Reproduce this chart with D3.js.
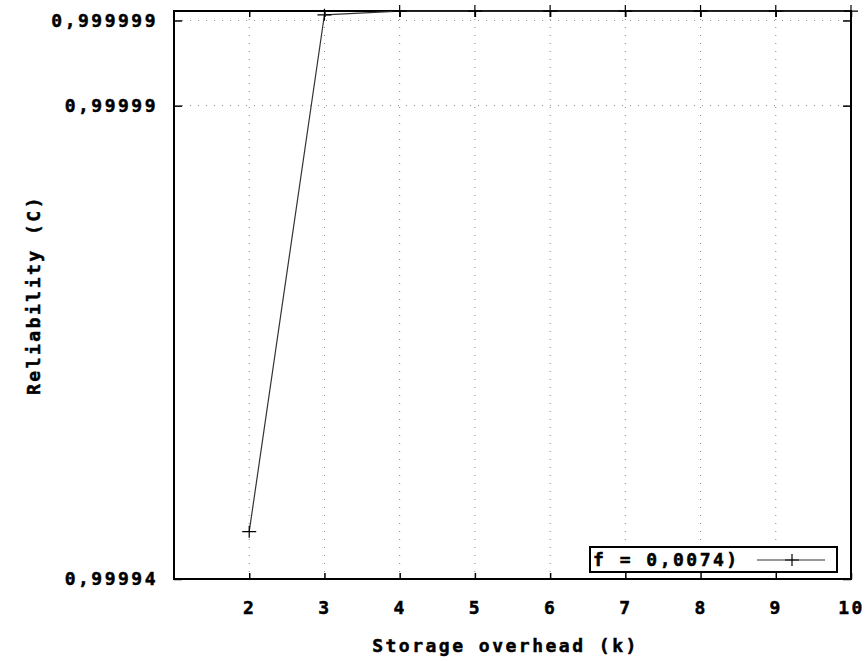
<!DOCTYPE html>
<html>
<head>
<meta charset="utf-8">
<script src="https://cdn.jsdelivr.net/npm/d3@7"></script>
<style>
  body { margin: 0; background: #fff; }
  text { font-family: "DejaVu Sans Mono", monospace; font-weight: bold; stroke: #000; stroke-width: 0.5px; }
</style>
</head>
<body>
<div id="wrapper"></div>
<script>
// data
const overhead = [2, 3, 4, 5, 6, 7, 8, 9, 10]
const reliability = [0.999945, 0.9999996, 0.99999999, 0.99999999, 0.99999999, 0.99999999, 0.99999999, 0.99999999, 0.99999999]
const xTicks = [2, 3, 4, 5, 6, 7, 8, 9, 10]
const xTickLabels = ["2", "3", "4", "5", "6", "7", "8", "9", "10"]
const yTicks = [0.99994, 0.99999, 0.999999]
const yTickLabels = ["0,99994", "0,99999", "0,999999"]
const legendLabel = "f = 0,0074)"

function drawChart() {
  const data = overhead.map((k, i) => ({ k, r: reliability[i] }))
  const xAccessor = d => d.k
  const yAccessor = d => d.r

  // dimensions
  const dimensions = {
    width: 866,
    height: 661,
    margin: { top: 11, right: 15, bottom: 82, left: 174 }
  }
  dimensions.boundedWidth = dimensions.width - dimensions.margin.left - dimensions.margin.right
  dimensions.boundedHeight = dimensions.height - dimensions.margin.top - dimensions.margin.bottom

  const wrapper = d3.select("#wrapper")
    .append("svg")
    .attr("width", dimensions.width)
    .attr("height", dimensions.height)

  wrapper.append("rect")
    .attr("width", dimensions.width)
    .attr("height", dimensions.height)
    .attr("fill", "#fff")

  const bounds = wrapper.append("g")
    .attr("transform", `translate(${dimensions.margin.left},${dimensions.margin.top})`)

  // scales
  const xScale = d3.scaleLinear()
    .domain([1, 10])
    .range([0, dimensions.boundedWidth])

  const yScale = d3.scaleLinear()
    .domain([0.99994, 1])
    .range([dimensions.boundedHeight, 0])

  // grid (dotted, like gnuplot)
  bounds.append("g")
    .selectAll("line")
    .data(xTicks.filter(t => t < 10))
    .join("line")
    .attr("x1", d => xScale(d))
    .attr("x2", d => xScale(d))
    .attr("y1", 0)
    .attr("y2", dimensions.boundedHeight)
    .attr("stroke", "#888")
    .attr("stroke-width", 1)
    .attr("stroke-dasharray", "1,7")

  bounds.append("g")
    .selectAll("line")
    .data(yTicks.filter(t => t > 0.99994))
    .join("line")
    .attr("x1", 0)
    .attr("x2", dimensions.boundedWidth)
    .attr("y1", d => yScale(d))
    .attr("y2", d => yScale(d))
    .attr("stroke", "#888")
    .attr("stroke-width", 1)
    .attr("stroke-dasharray", "1,7")

  // axes, ticks pointing inward, mirrored on top/right
  const xAxisGenerator = d3.axisBottom(xScale)
    .tickValues(xTicks)
    .tickFormat((d, i) => xTickLabels[i])
    .tickSizeInner(-6)
    .tickSizeOuter(0)
    .tickPadding(22)

  const xAxis = bounds.append("g")
    .attr("transform", `translate(0,${dimensions.boundedHeight})`)
    .call(xAxisGenerator)

  const xAxisTop = bounds.append("g")
    .call(d3.axisTop(xScale).tickValues(xTicks).tickFormat("").tickSizeInner(-6).tickSizeOuter(0))

  const yAxisGenerator = d3.axisLeft(yScale)
    .tickValues(yTicks)
    .tickFormat((d, i) => yTickLabels[i])
    .tickSizeInner(-8)
    .tickSizeOuter(0)
    .tickPadding(16)

  const yAxis = bounds.append("g")
    .call(yAxisGenerator)

  const yAxisRight = bounds.append("g")
    .attr("transform", `translate(${dimensions.boundedWidth},0)`)
    .call(d3.axisRight(yScale).tickValues(yTicks).tickFormat("").tickSizeInner(-8).tickSizeOuter(0))

  bounds.selectAll(".domain").remove()
  bounds.selectAll(".tick line").attr("stroke", "#000").attr("stroke-width", 1.5)
  bounds.selectAll(".tick text")
    .attr("fill", "#000")
    .style("font-size", "18px")
    .style("letter-spacing", "2.5px")

  // frame
  bounds.append("rect")
    .attr("width", dimensions.boundedWidth)
    .attr("height", dimensions.boundedHeight)
    .attr("fill", "none")
    .attr("stroke", "#000")
    .attr("stroke-width", 2)

  // data line + point markers
  const lineGenerator = d3.line()
    .x(d => xScale(xAccessor(d)))
    .y(d => yScale(yAccessor(d)))

  bounds.append("path")
    .datum(data)
    .attr("d", lineGenerator)
    .attr("fill", "none")
    .attr("stroke", "#333")
    .attr("stroke-width", 1.2)

  bounds.selectAll(".pt")
    .data(data)
    .join("path")
    .attr("class", "pt")
    .attr("transform", d => `translate(${xScale(xAccessor(d))},${yScale(yAccessor(d))})`)
    .attr("d", "M-7,0H7M0,-6V6")
    .attr("stroke", "#000")
    .attr("stroke-width", 1.2)

  // legend
  const legend = bounds.append("g")
    .attr("transform", `translate(${590 - dimensions.margin.left},${547 - dimensions.margin.top})`)

  legend.append("rect")
    .attr("width", 247)
    .attr("height", 25)
    .attr("fill", "#fff")
    .attr("stroke", "#000")
    .attr("stroke-width", 2)

  legend.append("text")
    .attr("x", 3)
    .attr("y", 19)
    .attr("fill", "#000")
    .style("font-size", "18px")
    .style("letter-spacing", "2.5px")
    .text(legendLabel)

  legend.append("line")
    .attr("x1", 167).attr("x2", 235)
    .attr("y1", 13).attr("y2", 13)
    .attr("stroke", "#333")
    .attr("stroke-width", 1.2)

  legend.append("path")
    .attr("transform", "translate(202,13)")
    .attr("d", "M-7,0H7M0,-6V6")
    .attr("stroke", "#000")
    .attr("stroke-width", 1.2)

  // axis titles
  wrapper.append("text")
    .attr("x", dimensions.margin.left + dimensions.boundedWidth / 2 - 7)
    .attr("y", 652)
    .attr("text-anchor", "middle")
    .attr("fill", "#000")
    .style("font-size", "18px")
    .style("letter-spacing", "2.5px")
    .text("Storage overhead (k)")

  wrapper.append("text")
    .attr("transform", `translate(40,${dimensions.margin.top + dimensions.boundedHeight / 2}) rotate(-90)`)
    .attr("text-anchor", "middle")
    .attr("fill", "#000")
    .style("font-size", "18px")
    .style("letter-spacing", "2.5px")
    .text("Reliability (C)")
}
drawChart()
</script>
</body>
</html>
